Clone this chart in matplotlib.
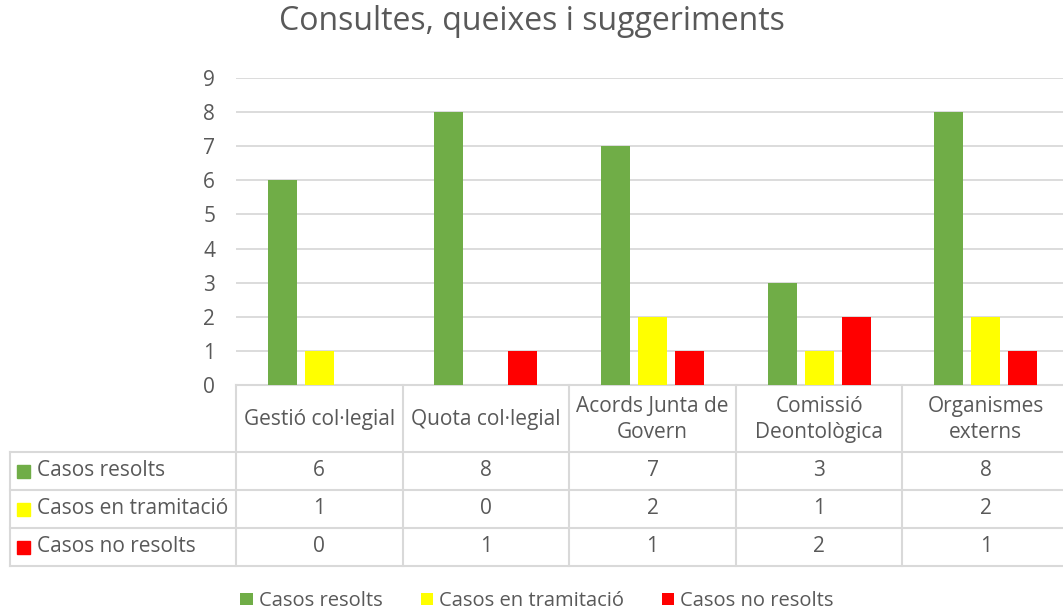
import matplotlib.pyplot as plt
from matplotlib.patches import Rectangle
import numpy as np

categories = ["Gestió col·legial", "Quota col·legial", "Acords Junta de\nGovern",
              "Comissió\nDeontològica", "Organismes\nexterns"]
series_names = ["Casos resolts", "Casos en tramitació", "Casos no resolts"]
resolts = [6, 8, 7, 3, 8]
tramitacio = [1, 0, 2, 1, 2]
no_resolts = [0, 1, 1, 2, 1]
colors = ["#70AD47", "#FFFF00", "#FF0000"]
yticks = list(range(0, 10))

plt.rcParams["font.family"] = ["Open Sans", "DejaVu Sans"]
text_color = "#595959"
line_color = "#D9D9D9"

W, H = 1063, 613
fig = plt.figure(figsize=(W / 100, H / 100), dpi=100)


def fx(px):
    return px / W


def fy(py):
    return 1 - py / H


# Plot area (pixels): left 236, top 78, bottom 385, category width ~166.6
left, top, bottom, cw = 236, 78, 385, 166.6
ax = fig.add_axes([fx(left), fy(bottom), fx(cw * 5), (bottom - top) / H])
x = np.arange(len(categories))
bw = 0.174
step = 0.222
for i, vals in enumerate([resolts, tramitacio, no_resolts]):
    ax.bar(x + (i - 1) * step, vals, width=bw, color=colors[i],
           label=series_names[i], zorder=3)
ax.set_xlim(-0.5, len(categories) - 0.5)
ax.set_ylim(0, 9)
ax.set_yticks(yticks)
ax.yaxis.grid(True, color=line_color, linewidth=1.3, zorder=0)
ax.set_xticks([])
for s in ["top", "right", "left"]:
    ax.spines[s].set_visible(False)
ax.spines["bottom"].set_color(line_color)
ax.spines["bottom"].set_linewidth(1.5)
ax.tick_params(axis="y", length=0, labelsize=15, labelcolor=text_color, pad=15)

# Data table below the plot
tab = fig.add_axes([0, 0, 1, 1], facecolor="none")
tab.set_xlim(0, W)
tab.set_ylim(H, 0)
tab.axis("off")
row_y = [bottom, 452, 490, 528, 566]
col_x = [left + cw * k for k in range(len(categories) + 1)]
tab_left = 10
lw = 1.5
for k, cx in enumerate(col_x):
    tab.plot([cx, cx], [row_y[0], row_y[-1]], color=line_color, lw=lw)
tab.plot([tab_left, tab_left], [row_y[1], row_y[-1]], color=line_color, lw=lw)
for ry in row_y[1:]:
    tab.plot([tab_left, col_x[-1]], [ry, ry], color=line_color, lw=lw)

for k, cat in enumerate(categories):
    cx = (col_x[k] + col_x[k + 1]) / 2
    tab.text(cx, (row_y[0] + row_y[1]) / 2 + 1, cat, ha="center", va="center",
             fontsize=15, color=text_color, linespacing=1.35)

for r, (name, vals) in enumerate(zip(series_names, [resolts, tramitacio, no_resolts])):
    cy = (row_y[r + 1] + row_y[r + 2]) / 2
    tab.add_patch(Rectangle((17, cy - 6.5), 13, 13, color=colors[r]))
    tab.text(37, cy, name, ha="left", va="center", fontsize=15, color=text_color)
    for k, v in enumerate(vals):
        cx = (col_x[k] + col_x[k + 1]) / 2
        tab.text(cx, cy, str(v), ha="center", va="center", fontsize=15,
                 color=text_color)

# Legend at the bottom
handles, labels = ax.get_legend_handles_labels()
fig.legend(handles, labels, loc="center", bbox_to_anchor=(fx(537), fy(601)),
           ncol=3, frameon=False, fontsize=14.5, handlelength=0.6, handleheight=0.6,
           handletextpad=0.3, columnspacing=1.9, labelcolor=text_color)

fig.text(fx(532), fy(22), "Consultes, queixes i suggeriments", ha="center",
         va="center", fontsize=23, color=text_color)

fig.savefig("out.png", dpi=100)
